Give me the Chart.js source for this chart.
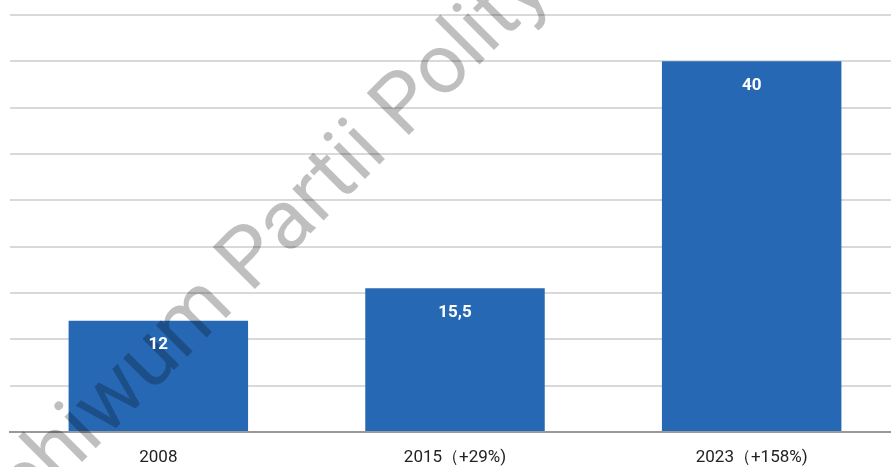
<!DOCTYPE html>
<html>
<head>
<meta charset="utf-8">
<script src="https://cdn.jsdelivr.net/npm/chart.js@4.4.1/dist/chart.umd.min.js"></script>
<style>
  html, body { margin: 0; padding: 0; background: #fff; overflow: hidden; }
  #wrap { position: relative; width: 900px; height: 467px; }
</style>
</head>
<body>
<div id="wrap"><canvas id="c"></canvas></div>
<script>
// data
var years = ["2008", "2015（+29%)", "2023（+158%)"];
var values = [12, 15.5, 40];
var yMax = 45, yStep = 5;
var barColor = "#2668b4";

// value labels inside the bars, plus the watermark
var overlay = {
    id: "overlay",
    afterDraw: function(chart) {
        var ctx = chart.ctx;
        ctx.save();
        // watermark
        ctx.translate(250, 294);
        ctx.rotate(-Math.PI / 4);
        ctx.font = "400 84px Roboto";
        ctx.fillStyle = "rgba(0,0,0,0.25)";
        ctx.textBaseline = "alphabetic";
        ctx.textAlign = "right";
        ctx.fillText("Archiwum ", 0, 0);
        ctx.textAlign = "left";
        ctx.fillText("Partii Politycznych", 0, 0);
        ctx.restore();

        ctx.save();
        var meta = chart.getDatasetMeta(0);
        ctx.font = "bold 17px Roboto";
        ctx.fillStyle = "#ffffff";
        ctx.textAlign = "center";
        ctx.textBaseline = "middle";
        for (var i = 0; i < meta.data.length; i++) {
            var el = meta.data[i];
            var txt = String(values[i]).replace(".", ",");
            ctx.fillText(txt, el.x, el.y + 24);
        }
        ctx.restore();
    }
};

new Chart(document.getElementById("c"), {
    type: "bar",
    data: {
        labels: years,
        datasets: [{
            data: values,
            backgroundColor: barColor,
            borderWidth: 0,
            categoryPercentage: 1,
            barPercentage: 0.605
        }]
    },
    options: {
        responsive: true,
        maintainAspectRatio: false,
        animation: false,
        layout: { padding: { left: 10, top: 15, right: 0, bottom: 0 } },
        plugins: { legend: { display: false }, tooltip: { enabled: false } },
        scales: {
            x: {
                z: 1,
                grid: { display: false },
                border: { display: true, color: "#999999", width: 2 },
                ticks: { color: "#222222", font: { family: "Roboto", size: 17 }, padding: 8 },
                afterFit: function(s) { s.height = 35; }
            },
            y: {
                z: 1,
                min: 0,
                max: yMax,
                ticks: { display: false, stepSize: yStep },
                grid: { color: "rgba(170,170,170,0.45)", lineWidth: 2, drawTicks: false },
                border: { display: false },
                afterFit: function(s) { s.width = 0; }
            }
        }
    },
    plugins: [overlay]
});
</script>
</body>
</html>
